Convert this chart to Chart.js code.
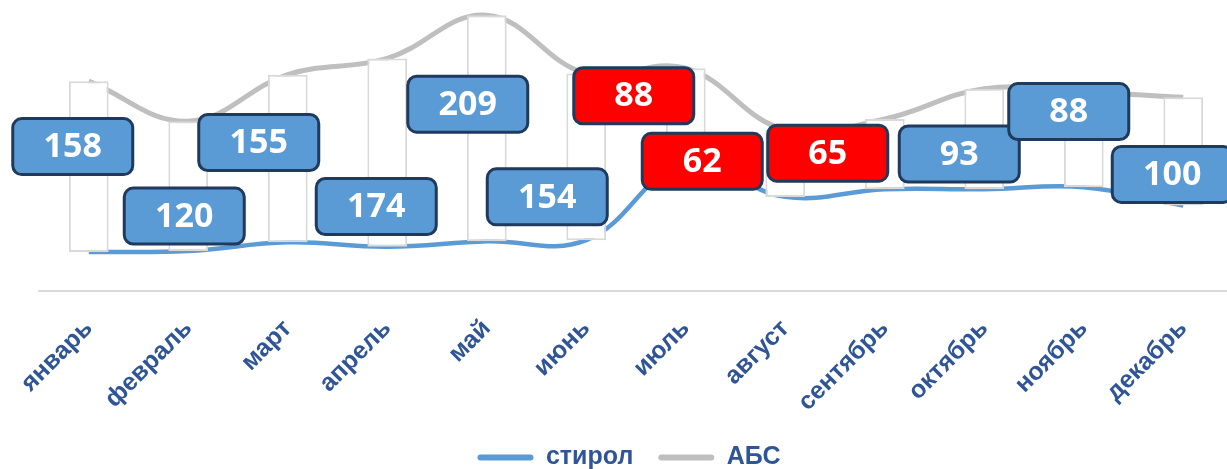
<!DOCTYPE html>
<html>
<head>
<meta charset="utf-8">
<script src="https://cdn.jsdelivr.net/npm/chart.js@4.4.0/dist/chart.umd.min.js"></script>
<style>
  html, body { margin: 0; padding: 0; background: #fff; overflow: hidden; }
  #wrap { position: relative; width: 1258px; height: 480px; }
</style>
</head>
<body>
<div id="wrap"><canvas id="chart"></canvas></div>
<script>
// data
const months = ['январь','февраль','март','апрель','май','июнь','июль','август','сентябрь','октябрь','ноябрь','декабрь'];
const styrol = [36, 37, 45, 41, 46, 47, 118, 87, 94, 94, 96, 79];
const absPlastic = [194, 157, 200, 215, 255, 201, 206, 149, 159, 187, 184, 179];

// the label boxes were dragged by hand in the original; nudge from bar centre (px)
const labelNudge = [[-16,-20],[-4,30],[-29,-16],[-11,54],[-19,-24],[-39,40],[-52,-20],[-83,-2],[-57,-1],[-25,15],[-15,-28],[-11,23]];
const redMonths = ['июль','август','сентябрь'];

const BLUE = '#5B9BD5', GREY = '#BFBFBF', TEXT = '#2F5597';

// rounded boxes with the gap between the two lines
const gapLabels = {
  id: 'gapLabels',
  afterDatasetsDraw(chart) {
    const meta = chart.getDatasetMeta(0);
    const ctx = chart.ctx;
    ctx.save();
    meta.data.forEach((bar, i) => {
      const cx = bar.x + labelNudge[i][0];
      const cy = (bar.y + bar.base) / 2 + labelNudge[i][1];
      const w = 120, h = 56;
      ctx.beginPath();
      ctx.roundRect(cx - w / 2, cy - h / 2, w, h, 9);
      ctx.fillStyle = redMonths.includes(months[i]) ? '#FF0000' : BLUE;
      ctx.fill();
      ctx.lineWidth = 3;
      ctx.strokeStyle = '#1F3A5C';
      ctx.stroke();
      ctx.fillStyle = '#fff';
      ctx.font = 'bold 34px "Open Sans"';
      ctx.textAlign = 'center';
      ctx.textBaseline = 'middle';
      ctx.fillText(String(absPlastic[i] - styrol[i]), cx, cy + 1);
    });
    ctx.restore();
  }
};

new Chart(document.getElementById('chart'), {
  data: {
    labels: months,
    datasets: [
      {
        type: 'bar',
        label: 'разница',
        data: months.map((m, i) => [styrol[i], absPlastic[i]]),
        backgroundColor: '#fff',
        borderColor: '#D9D9D9',
        borderWidth: 2,
        borderSkipped: false,
        barPercentage: 0.4,
        categoryPercentage: 1,
        order: 0
      },
      {
        type: 'line',
        label: 'стирол',
        data: styrol,
        borderColor: BLUE,
        backgroundColor: BLUE,
        borderWidth: 4.5,
        pointRadius: 0,
        tension: 0.4,
        fill: false,
        order: 1
      },
      {
        type: 'line',
        label: 'АБС',
        data: absPlastic,
        borderColor: GREY,
        backgroundColor: GREY,
        borderWidth: 5,
        pointRadius: 0,
        tension: 0.4,
        fill: false,
        order: 1
      }
    ]
  },
  options: {
    responsive: true,
    maintainAspectRatio: false,
    animation: false,
    layout: { padding: 0 },
    plugins: {
      tooltip: { enabled: false },
      legend: {
        position: 'bottom',
        labels: {
          generateLabels(chart) {
            return Chart.defaults.plugins.legend.labels.generateLabels(chart)
              .filter(it => it.datasetIndex > 0)
              .map(it => Object.assign(it, { fillStyle: it.strokeStyle, lineWidth: 0 }));
          },
          boxWidth: 56,
          boxHeight: 6,
          useBorderRadius: true,
          borderRadius: 3,
          padding: 25,
          color: TEXT,
          font: { family: 'Liberation Sans', size: 25, weight: 'bold' }
        }
      }
    },
    scales: {
      x: {
        offset: true,
        grid: { display: false },
        border: { display: true, color: '#D9D9D9', width: 2 },
        ticks: {
          autoSkip: false,
          maxRotation: 45,
          minRotation: 45,
          padding: 15,
          color: TEXT,
          font: { family: 'Liberation Sans', size: 25, weight: 'bold' }
        },
        afterFit(s) { s.height = 129; }
      },
      y: {
        min: 0,
        max: 269,
        grid: { display: false },
        border: { display: false },
        ticks: { display: false },
        afterFit(s) { s.width = 39; }
      },
      yRight: {
        position: 'right',
        grid: { display: false },
        border: { display: false },
        ticks: { display: false },
        afterFit(s) { s.width = 25; }
      }
    }
  },
  plugins: [gapLabels]
});
</script>
</body>
</html>
